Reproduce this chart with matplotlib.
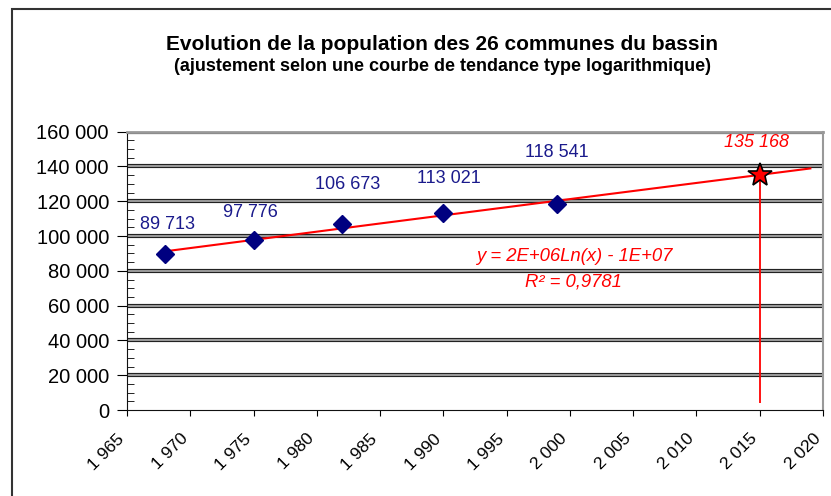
import numpy as np
import matplotlib
matplotlib.use("Agg")
import matplotlib.pyplot as plt
from matplotlib.ticker import FuncFormatter, MultipleLocator
from matplotlib.patches import Rectangle
from matplotlib.transforms import ScaledTranslation

plt.rcParams['font.family'] = ['Liberation Sans', 'DejaVu Sans']

annees = [1968, 1975, 1982, 1990, 1999]
population = [89713, 97776, 106673, 113021, 118541]
annee_projection = 2015
population_projection = 135168
annee_fin_tendance = 2019
equation = "y = 2E+06Ln(x) - 1E+07"
r2_texte = "R² = 0,9781"

# decalage des etiquettes (en points)
decalages = [(2, 21), (-2, 20), (4, 29), (4, 25), (0, 37)]

def milliers(v, pos=None):
    return f"{v:,.0f}".replace(",", " ")

fig = plt.figure(figsize=(8.31, 4.96), dpi=100)
fig.patches.append(Rectangle((12 / 831, -0.1), 1.1, 1 - 9 / 496 + 0.1,
                             transform=fig.transFigure, fill=False,
                             edgecolor='#333333', linewidth=1.5))

ax = fig.add_axes([127 / 831, 1 - 410 / 496, 696 / 831, 278.3 / 496])

fig.text(0.532, 0.911, "Evolution de la population des 26 communes du bassin",
         ha='center', va='center', fontsize=15, fontweight='bold')
fig.text(0.532, 0.866, "(ajustement selon une courbe de tendance type logarithmique)",
         ha='center', va='center', fontsize=13, fontweight='bold')

ax.set_xlim(1965, 2020)
ax.set_ylim(0, 160000)

# quadrillage style Excel (double trait)
for v in np.arange(20000, 160001, 20000):
    ax.axhline(v, color='#222222', linewidth=3.0, zorder=1)
    ax.axhline(v, color='#b0b0b0', linewidth=1.2, zorder=1)

# courbe de tendance logarithmique
a, b = np.polyfit(np.log(annees), population, 1)
xt = np.linspace(annees[0], annee_fin_tendance, 200)
ax.plot(xt, a * np.log(xt) + b, color='red', linewidth=1.5, zorder=3)

ax.plot(annees, population, linestyle='none', marker='D', markersize=9,
        color='#000080', zorder=4)

for x, y, d in zip(annees, population, decalages):
    ax.annotate(milliers(y), (x, y), xytext=d, textcoords='offset points',
                ha='center', va='center', color='#1a1a8c', fontsize=13)

ax.vlines(annee_projection, 4000, population_projection, color='red',
          linewidth=1.3, zorder=3)
ax.plot(annee_projection, population_projection, marker='*', markersize=18,
        color='red', markeredgecolor='black', markeredgewidth=1.2, zorder=5)
ax.annotate(milliers(population_projection), (annee_projection, population_projection),
            xytext=(-2, 23), textcoords='offset points', ha='center', va='center',
            color='red', fontsize=13, fontstyle='italic')

ax.text(0.642, 0.550, equation, transform=ax.transAxes, ha='center', va='center',
        color='red', fontsize=13.3, fontstyle='italic')
ax.text(0.642, 0.460, r2_texte, transform=ax.transAxes, ha='center', va='center',
        color='red', fontsize=13.3, fontstyle='italic')

ax.xaxis.set_major_locator(MultipleLocator(5))
ax.yaxis.set_major_locator(MultipleLocator(20000))
ax.yaxis.set_minor_locator(MultipleLocator(5000))
ax.xaxis.set_major_formatter(FuncFormatter(milliers))
ax.yaxis.set_major_formatter(FuncFormatter(milliers))
ax.tick_params(axis='y', which='major', direction='out', length=7, labelsize=14.5, pad=6)
ax.tick_params(axis='y', which='minor', direction='in', length=5)
ax.tick_params(axis='x', direction='out', length=4, labelsize=12.5, pad=15)
decalage_x = ScaledTranslation(-5 / 100, 0, fig.dpi_scale_trans)
for lab in ax.get_xticklabels():
    lab.set_rotation(45)
    lab.set_ha('right')
    lab.set_va('center')
    lab.set_rotation_mode('anchor')
    lab.set_transform(lab.get_transform() + decalage_x)

ax.spines['top'].set_color('#999999')
ax.spines['right'].set_color('#999999')
ax.spines['top'].set_linewidth(2)
ax.spines['right'].set_linewidth(1.5)
ax.spines['left'].set_color('#111111')
ax.spines['bottom'].set_color('#111111')

fig.savefig("out.png", dpi=100)
